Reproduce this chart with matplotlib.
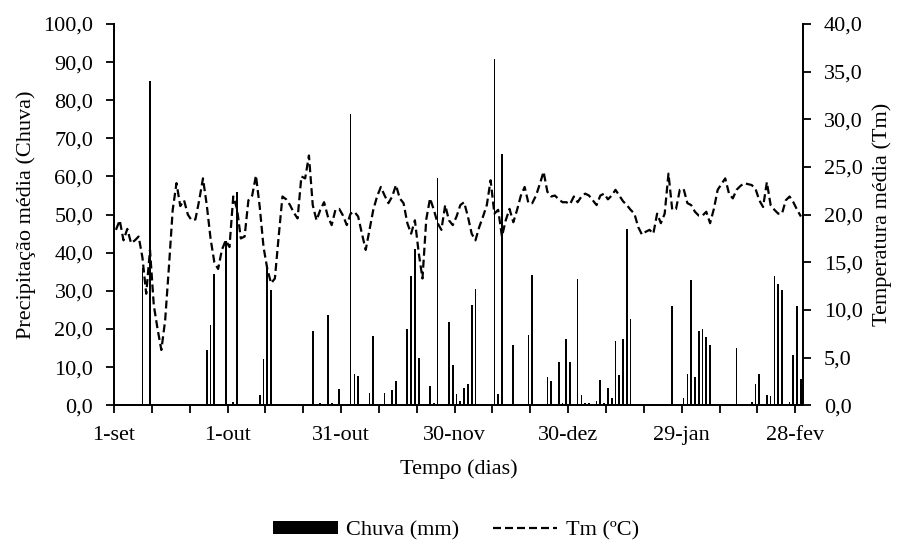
import matplotlib
matplotlib.use("Agg")
import matplotlib.pyplot as plt
import numpy as np
from matplotlib.ticker import FuncFormatter

plt.rcParams["font.family"] = ["Liberation Serif", "DejaVu Serif"]
plt.rcParams["font.size"] = 16

# daily values, 1-set .. 1-mar (182 days)
chuva = [
    0, 0, 0, 0, 0, 0, 0, 36.0, 0.3, 85.0,
    0.4, 0, 0, 0, 0, 0, 0, 0, 0, 0,
    0, 0, 0, 0, 14.4, 21.0, 34.3, 0, 0, 43.0,
    0.3, 0.8, 56.0, 0, 0, 0, 0, 0, 2.6, 12.2,
    36.3, 30.2, 0, 0, 0, 0, 0, 0, 0, 0,
    0, 0, 19.4, 0, 0.5, 0, 23.8, 0.5, 0, 4.4,
    0.3, 0, 76.3, 8.3, 7.6, 0, 0, 3.1, 18.1, 0,
    0, 3.1, 0, 4.1, 6.3, 0, 0, 19.9, 33.9, 40.9,
    12.4, 0, 0, 5.0, 0.5, 59.5, 0, 0, 21.9, 10.5,
    3.0, 1.0, 4.5, 5.5, 26.2, 30.6, 0, 0, 0, 0,
    90.7, 2.9, 65.8, 0, 0, 15.7, 0, 0, 0, 18.4,
    34.1, 0, 0, 0, 7.3, 6.3, 0, 11.4, 0.5, 17.3,
    11.4, 0, 33.2, 2.6, 0.5, 0.5, 0, 1.0, 6.7, 0.5,
    4.6, 2.0, 16.8, 8.0, 17.5, 46.1, 22.7, 0, 0, 0,
    0, 0, 0, 0, 0, 0, 0, 26.0, 0.3, 0,
    1.8, 8.3, 32.8, 7.3, 19.4, 20.1, 17.8, 15.7, 0, 0,
    0, 0, 0, 0, 15.0, 0, 0, 0, 0.8, 5.7,
    8.3, 0, 2.6, 2.4, 33.9, 31.9, 30.2, 0, 0.8, 13.3,
    26.1, 7.0,
]

tm = [
    18.4, 19.4, 17.3, 18.5, 17.0, 17.3, 17.7, 15.5, 11.7, 16.3,
    10.5, 8.0, 5.8, 8.9, 14.5, 20.5, 23.3, 20.9, 21.5, 20.0,
    19.4, 19.5, 21.5, 23.8, 21.0, 17.5, 15.0, 14.3, 16.3, 17.3,
    16.6, 21.9, 20.6, 17.5, 17.7, 21.5, 22.0, 24.1, 20.8, 16.6,
    14.3, 12.8, 13.3, 17.7, 21.9, 21.6, 21.0, 20.2, 19.6, 24.0,
    23.8, 26.2, 21.0, 19.4, 20.5, 21.3, 19.8, 18.9, 20.5, 20.6,
    19.9, 18.9, 20.1, 20.3, 19.8, 18.0, 16.3, 18.4, 20.5, 21.9,
    22.9, 22.0, 21.2, 21.9, 23.1, 21.7, 21.2, 19.1, 18.0, 19.4,
    16.0, 13.3, 19.5, 21.7, 20.5, 19.1, 18.4, 21.0, 19.4, 18.9,
    19.8, 21.0, 21.3, 19.8, 18.0, 17.3, 18.7, 19.8, 21.0, 23.6,
    20.1, 20.5, 17.7, 19.4, 20.6, 19.2, 20.5, 22.0, 22.9, 21.2,
    21.2, 22.0, 23.2, 24.5, 22.4, 21.9, 22.0, 21.6, 21.3, 21.3,
    21.1, 21.9, 21.3, 21.9, 22.2, 22.0, 21.5, 21.0, 22.0, 22.2,
    21.6, 22.0, 22.6, 22.0, 21.4, 21.0, 20.5, 20.1, 18.7, 17.9,
    18.2, 18.4, 18.0, 20.1, 19.1, 20.1, 24.3, 20.5, 20.6, 22.6,
    22.7, 21.2, 21.0, 20.3, 19.9, 19.9, 20.3, 19.1, 20.6, 22.6,
    23.2, 23.8, 22.2, 21.7, 22.6, 23.0, 23.3, 23.2, 23.1, 22.7,
    21.5, 20.8, 23.4, 21.0, 20.5, 20.1, 20.1, 21.5, 21.9, 21.3,
    20.5, 19.8,
]

tick_pos = [0, 30, 60, 90, 120, 150, 180]
tick_lab = ["1-set", "1-out", "31-out", "30-nov", "30-dez", "29-jan", "28-fev"]

dias = np.arange(len(chuva)) + 0.5


def virgula(v, pos):
    return f"{v:.1f}".replace(".", ",")


fig = plt.figure(figsize=(8.98, 5.44), dpi=100)
ax = fig.add_axes([0.127, 0.255, 0.767, 0.701])
ax2 = ax.twinx()

ax.bar(dias, chuva, width=0.45, color="black", label="Chuva (mm)")
ax2.plot(dias, tm, color="black", lw=1.6, linestyle=(0, (3.6, 1.8)), label="Tm (ºC)")

ax.set_xlim(0, 182)
ax.set_ylim(0, 100)
ax2.set_ylim(0, 40)
ax.set_yticks(np.arange(0, 101, 10))
ax2.set_yticks(np.arange(0, 41, 5))
ax.yaxis.set_major_formatter(FuncFormatter(virgula))
ax2.yaxis.set_major_formatter(FuncFormatter(virgula))

xt = list(range(0, 181, 10))
ax.set_xticks(xt)
ax.set_xticklabels([tick_lab[tick_pos.index(t)] if t in tick_pos else "" for t in xt])

for a in (ax, ax2):
    a.spines["top"].set_visible(False)
    for s in a.spines.values():
        s.set_linewidth(1.3)
    a.tick_params(width=1.3, length=6, direction="out", labelsize=16, pad=9)
ax.tick_params(axis="x", pad=9)

ax.set_ylabel("Precipitação média (Chuva)", fontsize=16, labelpad=5)
ax2.set_ylabel("Temperatura média (Tm)", fontsize=16, labelpad=7)
ax.set_xlabel("Tempo (dias)", fontsize=16, labelpad=10)

h1, l1 = ax.get_legend_handles_labels()
h2, l2 = ax2.get_legend_handles_labels()
fig.legend(h1 + h2, l1 + l2, loc="center", bbox_to_anchor=(0.508, 0.025), ncol=2,
           frameon=False, handlelength=2.9, handleheight=0.55, handletextpad=0.4,
           columnspacing=1.5, fontsize=16)

fig.savefig("out.png", dpi=100)
